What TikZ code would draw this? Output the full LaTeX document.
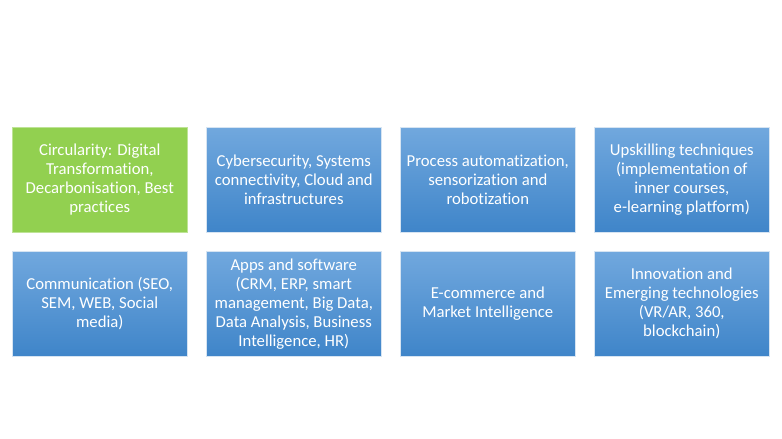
\documentclass[tikz,border=0pt]{standalone}
\usepackage{fontspec}
\setmainfont[Ligatures=NoCommon]{Carlito}
\definecolor{btop}{HTML}{71A8DE}
\definecolor{bbot}{HTML}{3F85C9}
\definecolor{gfill}{HTML}{92D050}
\definecolor{bline}{HTML}{D6E4F2}
\begin{document}
\begin{tikzpicture}[x=1pt,y=-1pt,
  base/.style={minimum width=175pt,minimum height=105pt,inner sep=2pt,align=center,
    text=white,font=\fontsize{16.7}{19}\selectfont,draw=bline,line width=0.6pt,anchor=north west},
  bluebox/.style={base,top color=btop,bottom color=bbot},
  greenbox/.style={base,fill=gfill,draw=gfill!60!white}]
\useasboundingbox (0,0) rectangle (782,439);
\fill[white] (0,0) rectangle (782,439);
\node[greenbox] (a1) at (12,127) {Circularity: Digital\\Transformation,\\Decarbonisation, Best\\practices};
\node[bluebox] (a2) at (206,127) {Cybersecurity, Systems\\connectivity, Cloud and\\infrastructures};
\node[bluebox] (a3) at (400,127) {Process automatization,\\sensorization and\\robotization};
\node[bluebox] (a4) at (594,127) {Upskilling techniques\\(implementation of\\inner courses,\\e-learning platform)};
\node[bluebox] (b1) at (12,251) {Communication (SEO,\\SEM, WEB, Social\\media)};
\node[bluebox] (b2) at (206,251) {Apps and software\\(CRM, ERP, smart\\management, Big Data,\\Data Analysis, Business\\Intelligence, HR)};
\node[bluebox] (b3) at (400,251) {E-commerce and\\Market Intelligence};
\node[bluebox] (b4) at (594,251) {Innovation and\\Emerging technologies\\(VR/AR, 360,\\blockchain)};
\end{tikzpicture}
\end{document}
